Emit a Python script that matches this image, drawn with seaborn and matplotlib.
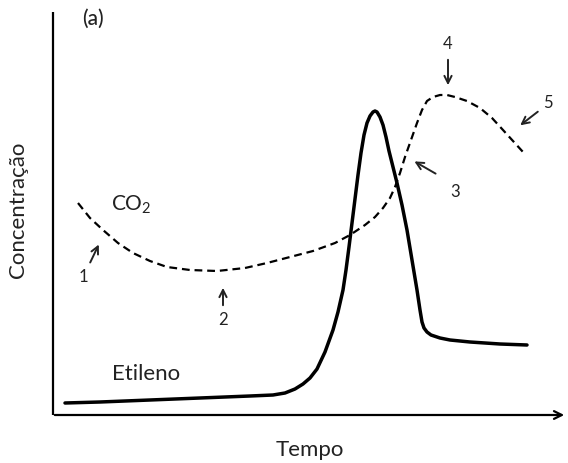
import matplotlib
matplotlib.use("Agg")
import matplotlib.pyplot as plt
import seaborn as sns
import pandas as pd

# Data (time, concentration), arbitrary units
co2_t = [25, 37, 50, 65, 80, 97, 114, 137, 164, 192, 214, 237, 260, 282, 297, 312, 322, 330,
         337, 342, 347, 352, 358, 364, 369, 374, 380, 387, 394, 402, 414, 427, 439, 450, 460, 470]
co2_c = [212, 197, 185, 172, 162, 154, 148, 145, 144, 147, 152, 158, 164, 172, 180, 190, 198, 207,
         217, 228, 242, 258, 275, 292, 305, 314, 318, 320, 320, 318, 314, 307, 297, 285, 274, 263]

eti_t = [12, 47, 97, 147, 197, 220, 232, 242, 250, 257, 264, 272, 280, 285, 290, 293, 296, 299, 302,
         305, 308, 311, 314, 317, 320, 322, 324, 327, 330, 333, 336, 340, 344, 349, 354, 359, 364,
         367, 369, 371, 374, 378, 387, 397, 417, 447, 474]
eti_c = [12, 13, 15, 17, 19, 20, 22, 26, 31, 37, 46, 63, 85, 103, 125, 145, 168, 192, 216,
         240, 262, 280, 292, 299, 303, 304, 303, 298, 290, 278, 264, 248, 232, 210, 185, 155, 125,
         105, 93, 87, 83, 80, 77, 75, 73, 71, 70]

sns.set_theme(style="white")
plt.rcParams['font.family'] = ['Lato', 'DejaVu Sans']
plt.rcParams['mathtext.fontset'] = 'custom'
plt.rcParams['mathtext.rm'] = 'Lato'
plt.rcParams['mathtext.default'] = 'regular'

fig = plt.figure(figsize=(5.68, 4.63), dpi=100)
ax = fig.add_axes([0, 0, 1, 1])
ax.set_xlim(-53, 515)
ax.set_ylim(-48, 415)
ax.axis('off')

df_co2 = pd.DataFrame({"Tempo": co2_t, "Concentração": co2_c})
df_eti = pd.DataFrame({"Tempo": eti_t, "Concentração": eti_c})

sns.lineplot(data=df_co2, x="Tempo", y="Concentração", ax=ax, sort=False, estimator=None,
             color="black", linewidth=1.6, linestyle=(0, (3.5, 2.2)))
sns.lineplot(data=df_eti, x="Tempo", y="Concentração", ax=ax, sort=False, estimator=None,
             color="black", linewidth=2.5, solid_joinstyle='round', solid_capstyle='round')

# axes lines
ax.plot([0, 0], [0, 403], color="black", lw=1.6, solid_capstyle='butt')
ax.annotate("", xy=(514, 0), xytext=(-1, 0),
            arrowprops=dict(arrowstyle="->", color="black", lw=1.6, mutation_scale=14))

tc = "#222222"
fs = 16
ax.text(-35, 205, "Concentração", rotation=90, ha="center", va="center", fontsize=fs, color=tc)
ax.text(257, -35, "Tempo", ha="center", va="center", fontsize=fs, color=tc)
ax.text(40, 396, "(a)", ha="center", va="center", fontsize=15, color=tc, fontweight="medium")
ax.text(78, 210, "CO$_2$", ha="center", va="center", fontsize=15, color=tc)
ax.text(93, 41, "Etileno", ha="center", va="center", fontsize=fs, color=tc)

fs2 = 12
arrow = dict(arrowstyle="->", color=tc, lw=1.4, mutation_scale=13)
labels = [("1", (30, 138), (36, 150), (47, 173)),
          ("2", (170, 95), (170, 107), (170, 130)),
          ("3", (402, 223), (385, 240), (359, 255)),
          ("4", (395, 371), (395, 358), (395, 327)),
          ("5", (495, 312), (487, 305), (465, 288))]
for lab, tpos, tail, tip in labels:
    ax.text(tpos[0], tpos[1], lab, ha="center", va="center", fontsize=fs2, color=tc)
    ax.annotate("", xy=tip, xytext=tail, arrowprops=arrow)

fig.savefig("out.png", dpi=100)
